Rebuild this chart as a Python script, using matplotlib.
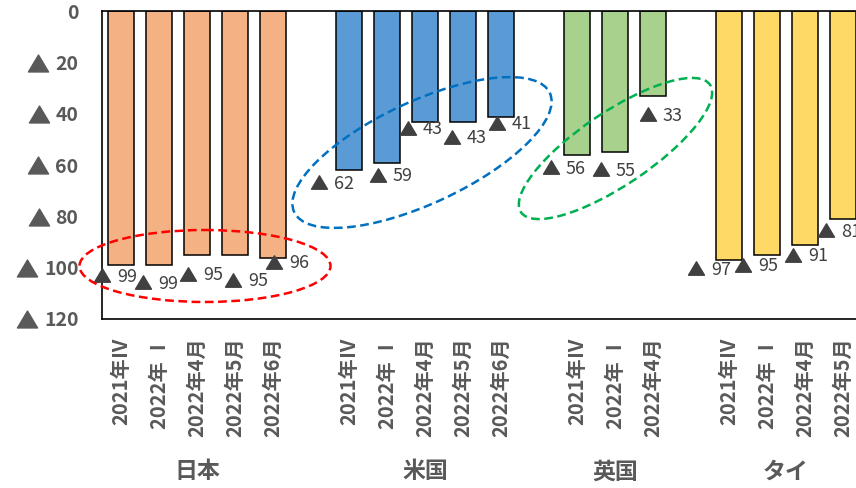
import numpy as np
import matplotlib.pyplot as plt
import matplotlib.transforms as mtransforms
from matplotlib.patches import Ellipse
from matplotlib.path import Path

plt.rcParams['font.family'] = ['Noto Sans CJK JP', 'DejaVu Sans']

# data
countries = ['日本', '米国', '英国', 'タイ']
periods_jp = ['2021年Ⅳ', '2022年 Ⅰ', '2022年4月', '2022年5月', '2022年6月']
periods_us = ['2021年Ⅳ', '2022年 Ⅰ', '2022年4月', '2022年5月', '2022年6月']
periods_uk = ['2021年Ⅳ', '2022年 Ⅰ', '2022年4月']
periods_th = ['2021年Ⅳ', '2022年 Ⅰ', '2022年4月', '2022年5月']
japan = [99, 99, 95, 95, 96]
usa = [62, 59, 43, 43, 41]
uk = [56, 55, 33]
thai = [97, 95, 91, 81]
yticks = [0, 20, 40, 60, 80, 100, 120]

series = [japan, usa, uk, thai]
periods = [periods_jp, periods_us, periods_uk, periods_th]
colors = ['#F4B183', '#5B9BD5', '#A9D18E', '#FFD966']

# where each "▲ n" label sits: triangle centre, pixels from the bar end (dx right, dy down)
label_off = [
    [(-19, 10), (-16, 17), (-9, 19), (-2, 25), (1, 4)],
    [(-30, 12), (-9, 12), (-17, 6), (-11, 15), (-4, 6)],
    [(-26, 12), (-14, 17), (-5, 18)],
    [(-33, 8), (-24, 10), (-12, 10), (-17, 11)],
]

W, H = 856, 488
fig = plt.figure(figsize=(W / 100, H / 100), dpi=100)
ax = fig.add_axes([102 / W, 1 - 319 / H, 760 / W, 307.5 / H])

# pixel coordinates, origin top-left
pix = mtransforms.Affine2D().scale(1 / W, -1 / H).translate(0, 1) + fig.transFigure
tri = Path([(-0.5, -0.42), (0.5, -0.42), (0, 0.42), (-0.5, -0.42)],
           [Path.MOVETO, Path.LINETO, Path.LINETO, Path.CLOSEPOLY])

gray = '#595959'
dark = '#404040'
ax.set_xlim(-0.5, 19.5)
ax.set_ylim(120, 0)

xpos = []
xlabels = []
start = 0
grp = mtransforms.blended_transform_factory(ax.transData, fig.transFigure)
for vals, per, col, offs, name in zip(series, periods, colors, label_off, countries):
    xs = np.arange(len(vals)) + start
    ax.bar(xs, vals, width=0.66, color=col, edgecolor='black', linewidth=1.1, zorder=2)
    for x, v, (dx, dy) in zip(xs, vals, offs):
        px, py = ax.transData.transform((x, v))
        tx, ty = px + dx, H - py + dy
        fig.add_artist(plt.Line2D([tx], [ty], marker=tri, markersize=11.5, color=dark,
                                  linestyle='none', transform=pix, zorder=4))
        fig.text(tx + 15, ty + 6.5, str(v), transform=pix, ha='left', va='baseline',
                 fontsize=13, color=dark, zorder=4)
    xpos.extend(xs)
    xlabels.extend(per)
    fig.text(xs.mean(), 1 - 472 / H, name, transform=grp, ha='center', va='center',
             fontsize=16.5, fontweight='bold', color=gray)
    start += len(vals) + 1

ax.set_yticks(yticks)
ax.set_yticklabels([str(t) for t in yticks], fontsize=14, fontweight='bold', color=gray)
ax.set_xticks(xpos)
ax.set_xticklabels(xlabels, rotation=90, fontsize=14.5, fontweight='bold', color=gray)
ax.tick_params(axis='y', length=0, pad=17)
ax.tick_params(axis='x', length=0, pad=13)
for s in ax.spines.values():
    s.set_linewidth(1.2)
    s.set_color('black')

# triangles in front of the negative tick values
fig.canvas.draw()
r = fig.canvas.get_renderer()
for t, lab in zip(yticks, ax.get_yticklabels()):
    if t == 0:
        continue
    bb = lab.get_window_extent(r)
    cy = H - ax.transData.transform((0, t))[1]
    fig.add_artist(plt.Line2D([bb.x0 - 17], [cy], marker=tri, markersize=14.5, color=gray,
                              linestyle='none', transform=pix))

# dashed ellipses
ellipses = [
    ((205, 266), 251, 72, 0, '#FF0000'),
    ((422, 152.5), 282, 102, -25, '#0070C0'),
    ((615.5, 148.5), 228, 73, -34, '#00B050'),
]
for c, w, h, ang, col in ellipses:
    e = Ellipse(c, w, h, angle=ang, fill=False, edgecolor=col, linewidth=1.8,
                linestyle=(0, (3.5, 1.8)), transform=pix, clip_on=False, zorder=5)
    fig.add_artist(e)

fig.savefig('out.png', dpi=100)
